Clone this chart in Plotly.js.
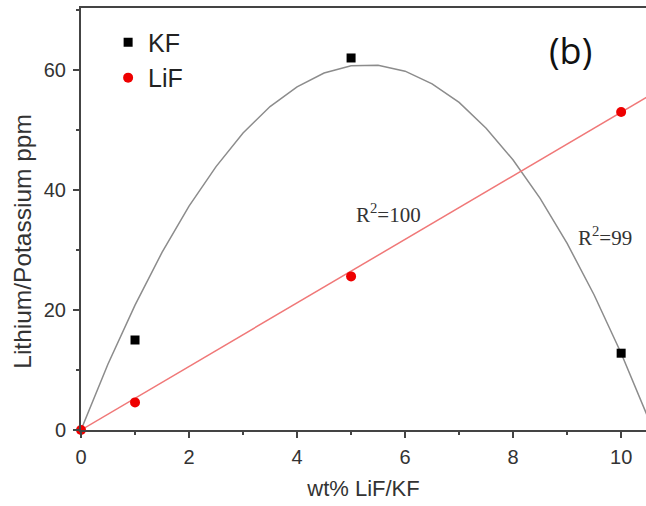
<!DOCTYPE html>
<html>
<head>
<meta charset="utf-8">
<script src="https://cdn.plot.ly/plotly-3.0.1.min.js"></script>
<style>html,body{margin:0;padding:0;background:#fff;}#chart{width:646px;height:506px;}</style>
</head>
<body>
<div id="chart"></div>
<script>
// Measured points
var kfX = [1, 5, 10];
var kfY = [15.0, 62.0, 12.8];
var lifX = [0, 1, 5, 10];
var lifY = [0, 4.6, 25.6, 53.0];

// Fit curves
var kfFitX = [0, 0.5, 1, 1.5, 2, 2.5, 3, 3.5, 4, 4.5, 5, 5.5, 6, 6.5, 7, 7.5, 8, 8.5, 9, 9.5, 10, 10.5];
var kfFitY = [0, 11.0, 20.8, 29.6, 37.3, 43.9, 49.5, 53.9, 57.2, 59.5, 60.7, 60.8, 59.8, 57.7, 54.6, 50.3, 45.0, 38.6, 31.1, 22.5, 12.8, 2.0];
var lifFitX = [0, 10.5];
var lifFitY = [0, 55.6];

var xTicks = [0, 2, 4, 6, 8, 10];
var yTicks = [0, 20, 40, 60];

var traces = [
  {x: kfFitX, y: kfFitY, mode: 'lines', line: {color: '#8c8c8c', width: 1.5}, showlegend: false, hoverinfo: 'skip'},
  {x: lifFitX, y: lifFitY, mode: 'lines', line: {color: '#f07878', width: 1.5}, showlegend: false, hoverinfo: 'skip'},
  {x: kfX, y: kfY, mode: 'markers', name: 'KF', marker: {symbol: 'square', size: 9, color: '#000'}, cliponaxis: false},
  {x: lifX, y: lifY, mode: 'markers', name: 'LiF', marker: {symbol: 'circle', size: 10, color: '#ee0000'}, cliponaxis: false}
];

var layout = {
  width: 646, height: 506,
  margin: {l: 81, r: 0, t: 8, b: 76},
  paper_bgcolor: '#fff', plot_bgcolor: '#fff',
  font: {family: 'Liberation Sans, Arial, sans-serif', color: '#333'},
  showlegend: true,
  legend: {x: 0.048, y: 0.973, xanchor: 'left', yanchor: 'top', bgcolor: 'rgba(0,0,0,0)',
           font: {size: 25, color: '#222'}, itemwidth: 30},
  xaxis: {
    range: [0, 10.46], showgrid: false, zeroline: false,
    showline: true, linecolor: '#444', linewidth: 2, mirror: true,
    ticks: 'outside', ticklen: 6, tickwidth: 1.5, tickcolor: '#444',
    tickvals: xTicks, ticktext: xTicks.map(String),
    tickfont: {size: 20, color: '#333'}, ticklabelstandoff: 2,
    minor: {dtick: 1, tick0: 0, ticks: 'outside', ticklen: 3, tickwidth: 1.5, tickcolor: '#444'},
    title: {text: 'wt% LiF/KF', font: {size: 22, color: '#333'}, standoff: 14}
  },
  yaxis: {
    range: [0, 70.33], showgrid: false, zeroline: false,
    showline: true, linecolor: '#444', linewidth: 2,
    ticks: 'outside', ticklen: 6, tickwidth: 1.5, tickcolor: '#444',
    tickvals: yTicks, ticktext: yTicks.map(String),
    tickfont: {size: 20, color: '#333'}, ticklabelstandoff: 3,
    minor: {dtick: 10, tick0: 0, ticks: 'outside', ticklen: 3, tickwidth: 1.5, tickcolor: '#444'}
  },
  annotations: [
    {xref: 'paper', yref: 'paper', x: -0.103, y: 0.448, xanchor: 'center', yanchor: 'middle', textangle: -90,
     text: 'Lithium/Potassium ppm', showarrow: false, font: {size: 24.5, color: '#333'}},
    {xref: 'paper', yref: 'paper', x: 0.867, y: 0.90, xanchor: 'center', yanchor: 'middle', text: '(b)', showarrow: false,
     font: {family: 'Open Sans, sans-serif', size: 36, color: '#111'}},
    {xref: 'x', yref: 'y', x: 5.70, y: 36.1, xanchor: 'center', yanchor: 'middle', text: 'R<sup>2</sup>=100', showarrow: false,
     font: {family: 'Liberation Serif, Times New Roman, serif', size: 21, color: '#333'}},
    {xref: 'x', yref: 'y', x: 9.7, y: 32.2, xanchor: 'center', yanchor: 'middle', text: 'R<sup>2</sup>=99', showarrow: false,
     font: {family: 'Liberation Serif, Times New Roman, serif', size: 21, color: '#333'}}
  ]
};

Plotly.newPlot('chart', traces, layout, {displayModeBar: false, staticPlot: true});
</script>
</body>
</html>
